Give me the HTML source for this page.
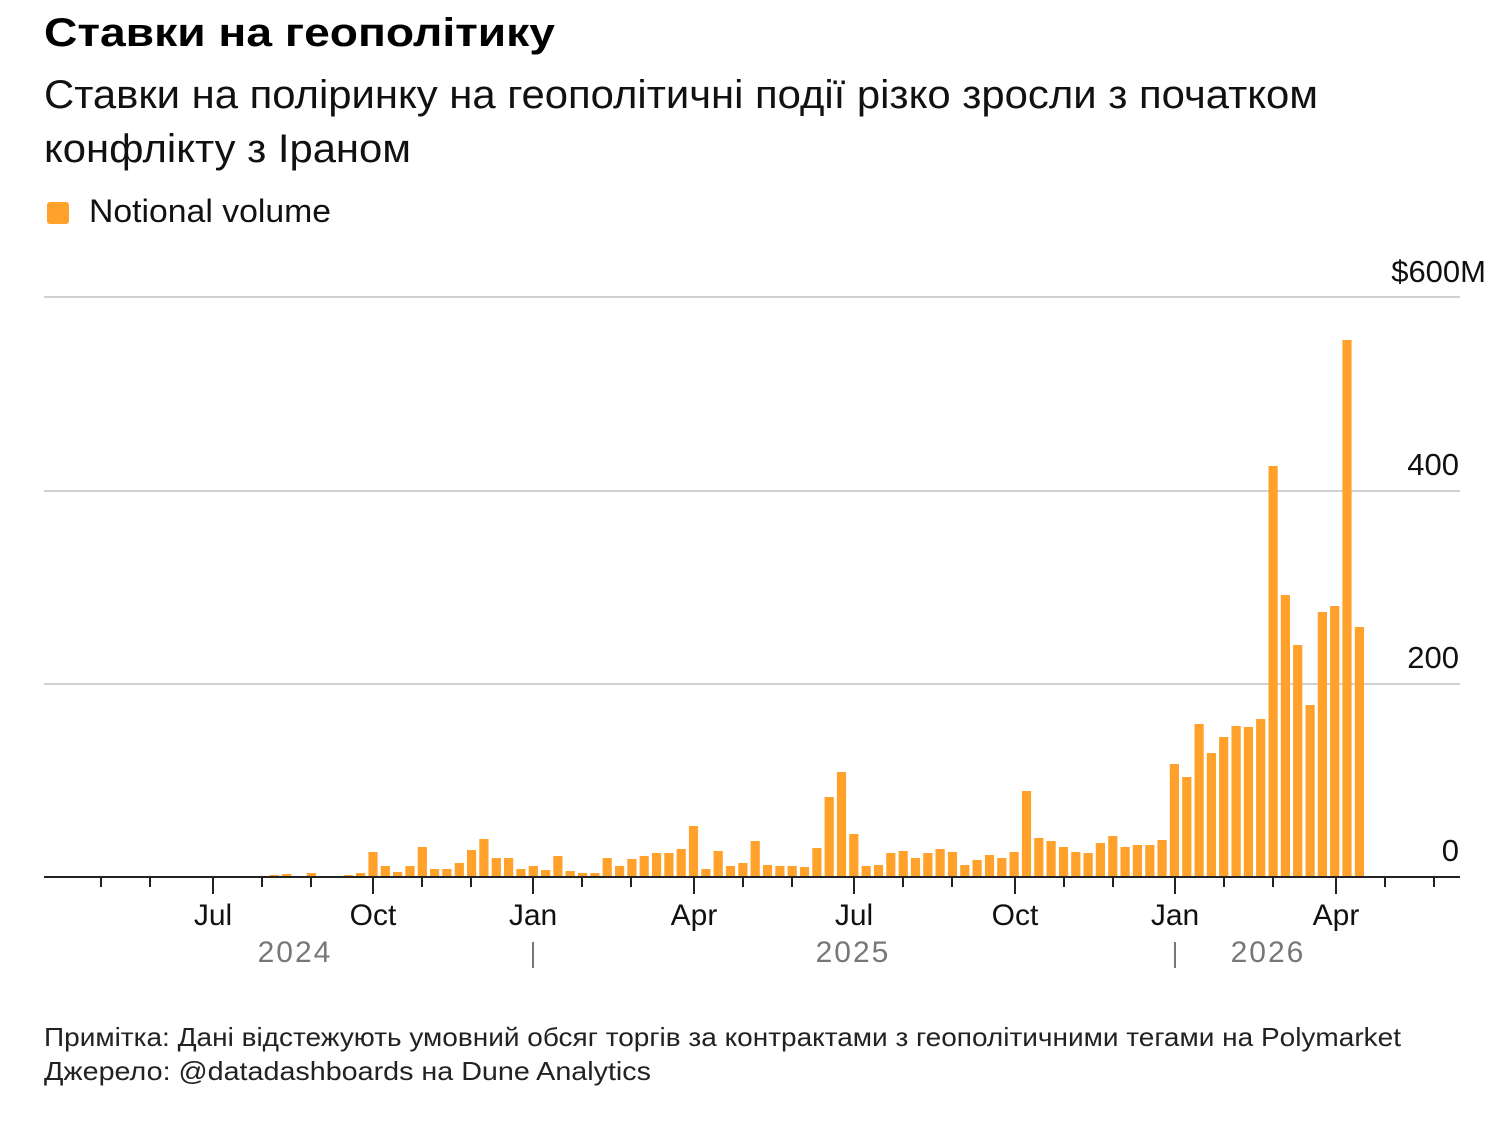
<!DOCTYPE html>
<html><head><meta charset="utf-8"><style>
html,body{margin:0;padding:0;background:#fff;}
svg{display:block;font-family:"Liberation Sans",Arial,sans-serif;}
</style></head><body>
<svg id="s" width="1500" height="1136" viewBox="0 0 1500 1136" xmlns="http://www.w3.org/2000/svg">
<text x="44" y="46" font-size="40" font-weight="bold" fill="#000" textLength="511" lengthAdjust="spacingAndGlyphs">Ставки на геополітику</text>
<text x="44" y="108" font-size="40" fill="#111" textLength="1274" lengthAdjust="spacingAndGlyphs">Ставки на поліринку на геополітичні події різко зросли з початком</text>
<text x="44" y="162" font-size="40" fill="#111" textLength="367" lengthAdjust="spacingAndGlyphs">конфлікту з Іраном</text>
<rect x="47" y="202" width="22" height="22" rx="3" fill="#ffa12b"/>
<text x="89" y="222" font-size="32" fill="#111" textLength="242" lengthAdjust="spacingAndGlyphs">Notional volume</text>
<g stroke="#d0d0d0" stroke-width="2">
<line x1="44" y1="297" x2="1460" y2="297"/>
<line x1="44" y1="491" x2="1460" y2="491"/>
<line x1="44" y1="684" x2="1460" y2="684"/>
</g>
<g font-size="31" fill="#111" text-anchor="end">
<text x="1486" y="282">$600M</text>
<text x="1459" y="475">400</text>
<text x="1459" y="668">200</text>
<text x="1459" y="861">0</text>
</g>
<g id="bars" fill="#ffa12b"></g>
<line x1="44" y1="877" x2="1460" y2="877" stroke="#222" stroke-width="2"/>
<g id="ticks" stroke="#222" stroke-width="2"></g>
<g font-size="30" fill="#111" text-anchor="middle">
<text x="213" y="925">Jul</text>
<text x="373" y="925">Oct</text>
<text x="533" y="925">Jan</text>
<text x="694" y="925">Apr</text>
<text x="854" y="925">Jul</text>
<text x="1015" y="925">Oct</text>
<text x="1175" y="925">Jan</text>
<text x="1336" y="925">Apr</text>
</g>
<g font-size="30" fill="#777" text-anchor="middle" letter-spacing="2">
<text x="295" y="962">2024</text>
<text x="853" y="962">2025</text>
<text x="1268" y="962">2026</text>
</g>
<g stroke="#777" stroke-width="2">
<line x1="533" y1="942" x2="533" y2="968"/>
<line x1="1175" y1="942" x2="1175" y2="968"/>
</g>
<text x="44" y="1046" font-size="26" fill="#222" textLength="1357" lengthAdjust="spacingAndGlyphs">Примітка: Дані відстежують умовний обсяг торгів за контрактами з геополітичними тегами на Polymarket</text>
<text x="44" y="1080" font-size="26" fill="#222" textLength="607" lengthAdjust="spacingAndGlyphs">Джерело: @datadashboards на Dune Analytics</text>
</svg>
<script>
var tops=[876,875,874,876,873,876,876,875,873,852,866,872,866,847,869,869,863,850,839,858,858,869,866,870,856,871,873,873,858,866,859,856,853,853,849,826,869,851,866,863,841,865,866,866,867,848,797,772,834,866,865,853,851,858,853,849,852,865,860,855,858,852,791,838,841,847,852,853,843,836,847,845,845,840,764,777,724,753,737,726,727,719,466,595,645,705,612,606,340,627];
var ns="http://www.w3.org/2000/svg",g=document.getElementById("bars");
tops.forEach(function(t,i){var c=262+12.33*i;var r=document.createElementNS(ns,"rect");
r.setAttribute("x",(c-4.6).toFixed(1));r.setAttribute("y",t);r.setAttribute("width","9.2");r.setAttribute("height",Math.max(877-t,1));g.appendChild(r);});
var tg=document.getElementById("ticks");
function tk(x,len){var l=document.createElementNS(ns,"line");l.setAttribute("x1",x);l.setAttribute("x2",x);l.setAttribute("y1",877);l.setAttribute("y2",877+len);tg.appendChild(l);}
var Q=[213,373,533,694,854,1015,1175,1336];
tk(101,10);tk(150,10);
Q.forEach(function(q){tk(q,17);tk(q+49,10);tk(q+98,10);});
</script>
</body></html>
